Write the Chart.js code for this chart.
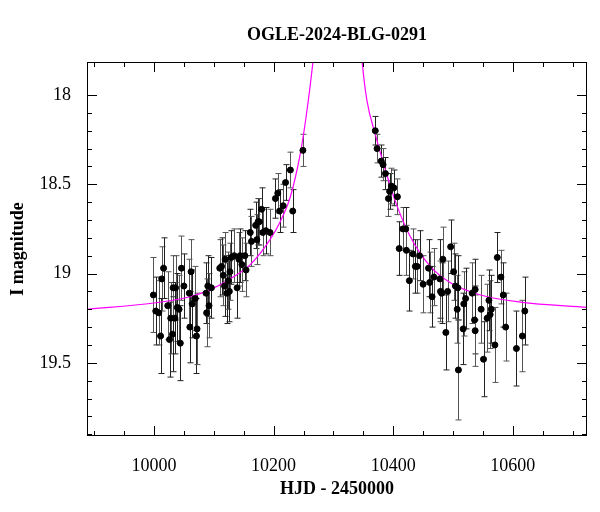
<!DOCTYPE html>
<html>
<head>
<meta charset="utf-8">
<script src="https://cdn.jsdelivr.net/npm/chart.js@4/dist/chart.umd.min.js"></script>
<style>
  body { margin: 0; background: #fff; }
  #wrap { width: 600px; height: 512px; }
</style>
</head>
<body>
<div id="wrap"><canvas id="lc"></canvas></div>
<script>
// OGLE photometry: HJD-2450000, I mag, error
const hjd = [9999,10003,10008,10011,10013,10016,10023,10026,10028,10031,10032,10035,10036,10039,10042,10044,10046,10050,
  10059,10060,10062,10064,10069,10071,10072,10087,10088,10090,10092,10096,10110,10113,10116,10118,10119,10122,10124,10126,
  10127,10129,10134,10139,10142,10144,10147,10152,10154,10161,10163,10170,10172,10174,10176,10180,10182,10187,10194,10203,
  10207,10210,10216,10220,10228,10232,10249,
  10370,10373,10380,10383,10387,10392,10394,10397,10401,10407,10410,10416,10421,10422,10427,10433,10437,10440,10444,10450,
  10459,10461,10465,10468,10478,10479,10481,10483,10488,10491,10496,10501,10504,10507,10508,10509,10517,10518,10521,10532,
  10536,10537,10537,10547,10551,10557,10560,10562,10564,10570,10574,10580,10584,10588,10606,10616,10620];
const mag = [19.12,19.21,19.22,19.35,19.03,18.97,19.18,19.37,19.25,19.34,19.08,19.25,19.08,19.19,19.20,19.39,18.97,19.07,
  19.11,19.30,18.99,19.17,19.14,19.35,19.31,19.11,19.22,19.07,19.18,19.08,18.97,18.96,19.01,19.07,18.92,19.11,19.04,19.10,
  18.99,18.91,18.90,19.08,18.92,18.90,18.95,18.90,18.98,18.77,18.82,18.73,18.81,18.71,18.71,18.64,18.77,18.76,18.77,18.58,
  18.55,18.65,18.62,18.49,18.42,18.65,18.31,
  18.20,18.30,18.37,18.39,18.44,18.58,18.54,18.51,18.52,18.57,18.86,18.75,18.75,18.87,19.04,18.89,18.96,18.96,18.90,19.06,
  18.97,19.05,19.13,19.02,19.03,19.10,19.11,18.92,19.33,19.10,18.85,18.99,19.07,19.20,19.08,19.54,19.31,19.17,19.14,19.11,
  19.26,19.32,19.09,19.20,19.48,19.25,19.15,19.23,19.20,19.40,18.91,19.02,19.12,19.30,19.42,19.35,19.21];
const err = [0.21,0.19,0.18,0.21,0.18,0.17,0.19,0.21,0.20,0.21,0.18,0.20,0.18,0.19,0.19,0.21,0.18,0.18,
  0.19,0.20,0.18,0.19,0.18,0.21,0.20,0.17,0.19,0.17,0.18,0.17,0.16,0.16,0.17,0.17,0.15,0.17,0.16,0.17,
  0.16,0.15,0.15,0.17,0.15,0.15,0.15,0.14,0.15,0.13,0.14,0.13,0.14,0.13,0.13,0.12,0.13,0.13,0.13,0.11,
  0.11,0.12,0.12,0.10,0.10,0.12,0.09,
  0.08,0.08,0.09,0.09,0.09,0.10,0.10,0.10,0.10,0.10,0.15,0.12,0.12,0.14,0.17,0.14,0.15,0.15,0.14,0.16,
  0.16,0.17,0.17,0.16,0.22,0.17,0.17,0.18,0.21,0.17,0.15,0.16,0.18,0.19,0.18,0.28,0.20,0.18,0.17,0.17,
  0.19,0.20,0.17,0.19,0.21,0.19,0.17,0.19,0.19,0.21,0.14,0.15,0.18,0.19,0.21,0.20,0.19];

// model curve
const modelX = [9888,10000,10060,10094,10127,10161,10194,10211,10228,10244,10254,10266,10285,10310,10335,10348,10356,10370,
  10387,10403,10428,10462,10495,10546,10613,10724];
const modelY = [19.20,19.165,19.13,19.09,19.03,18.95,18.81,18.71,18.57,18.34,18.13,17.81,17.2,16.8,17.2,17.81,18.03,18.22,
  18.42,18.59,18.79,18.96,19.05,19.12,19.16,19.19];

const xTicks = [10000, 10200, 10400, 10600];
const yTicks = [18, 18.5, 19, 19.5];

const serif = '"Liberation Serif", "DejaVu Serif", serif';

const frame = {
  id: 'frame',
  beforeDatasetsDraw(chart) {
    const ctx = chart.ctx, x = chart.scales.x, y = chart.scales.y;
    const a = chart.chartArea;
    ctx.save();
    ctx.beginPath();
    ctx.rect(a.left, a.top, a.right - a.left, a.bottom - a.top);
    ctx.clip();
    ctx.lineWidth = 1;
    hjd.forEach((t, i) => {
      const px = Math.round(x.getPixelForValue(t)) + 0.5;
      const y1 = y.getPixelForValue(mag[i] - err[i]);
      const y2 = y.getPixelForValue(mag[i] + err[i]);
      ctx.strokeStyle = i % 2 ? '#222' : '#555';
      ctx.beginPath();
      ctx.moveTo(px, y1); ctx.lineTo(px, y2);
      ctx.moveTo(px - 3, y1); ctx.lineTo(px + 3, y1);
      ctx.moveTo(px - 3, y2); ctx.lineTo(px + 3, y2);
      ctx.stroke();
    });
    ctx.restore();
  },
  afterDraw(chart) {
    const ctx = chart.ctx, x = chart.scales.x, y = chart.scales.y;
    const a = chart.chartArea;
    ctx.save();
    ctx.strokeStyle = '#000';
    ctx.lineWidth = 1;
    ctx.strokeRect(a.left + 0.5, a.top + 0.5, a.right - a.left - 1, a.bottom - a.top - 1);
    ctx.beginPath();
    for (let v = 9900; v <= 10700; v += 50) {
      const p = Math.round(x.getPixelForValue(v)) + 0.5;
      const len = v % 200 === 0 ? 10 : 5;
      ctx.moveTo(p, a.bottom); ctx.lineTo(p, a.bottom - len);
      ctx.moveTo(p, a.top); ctx.lineTo(p, a.top + len);
    }
    for (let k = 180; k <= 199; k++) {
      const v = k / 10;
      const p = Math.round(y.getPixelForValue(v)) + 0.5;
      const len = k % 5 === 0 ? 10 : 5;
      ctx.moveTo(a.left, p); ctx.lineTo(a.left + len, p);
      ctx.moveTo(a.right, p); ctx.lineTo(a.right - len, p);
    }
    ctx.stroke();
    ctx.fillStyle = '#000';
    ctx.font = 'bold 18px ' + serif;
    ctx.textAlign = 'center';
    ctx.fillText('OGLE-2024-BLG-0291', (a.left + a.right) / 2, 40);
    ctx.restore();
  }
};

new Chart(document.getElementById('lc'), {
  type: 'scatter',
  data: {
    datasets: [{
      label: 'model',
      type: 'line',
      data: modelX.map((t, i) => ({ x: t, y: modelY[i] })),
      borderColor: '#ff00ff',
      borderWidth: 1.2,
      pointRadius: 0,
      cubicInterpolationMode: 'monotone',
      order: 2
    }, {
      label: 'OGLE',
      data: hjd.map((t, i) => ({ x: t, y: mag[i] })),
      backgroundColor: '#000',
      borderColor: '#000',
      pointRadius: 3,
      order: 1
    }]
  },
  options: {
    responsive: true,
    maintainAspectRatio: false,
    animation: false,
    layout: { padding: { top: 62, right: 13, left: 0, bottom: 0 } },
    plugins: { legend: { display: false }, tooltip: { enabled: false } },
    scales: {
      x: {
        type: 'linear', min: 9888, max: 10724,
        grid: { display: false }, border: { display: false },
        afterBuildTicks: s => { s.ticks = xTicks.map(v => ({ value: v })); },
        afterFit: s => { s.height = 76; },
        ticks: { color: '#000', font: { family: serif, size: 18 }, padding: 11, maxRotation: 0,
          callback: v => String(v) },
        title: { display: true, text: 'HJD - 2450000', color: '#000',
          font: { family: serif, size: 18, weight: 'bold' }, padding: { top: 0, bottom: 12 } }
      },
      y: {
        type: 'linear', reverse: true, min: 17.815, max: 19.91,
        grid: { display: false }, border: { display: false },
        afterBuildTicks: s => { s.ticks = yTicks.map(v => ({ value: v })); },
        afterFit: s => { s.width = 87; },
        ticks: { color: '#000', font: { family: serif, size: 18 }, padding: 8,
          callback: v => String(v) },
        title: { display: true, text: 'I magnitude', color: '#000',
          font: { family: serif, size: 18, weight: 'bold' }, padding: { top: 8, bottom: 4 } }
      }
    }
  },
  plugins: [frame]
});
</script>
</body>
</html>
